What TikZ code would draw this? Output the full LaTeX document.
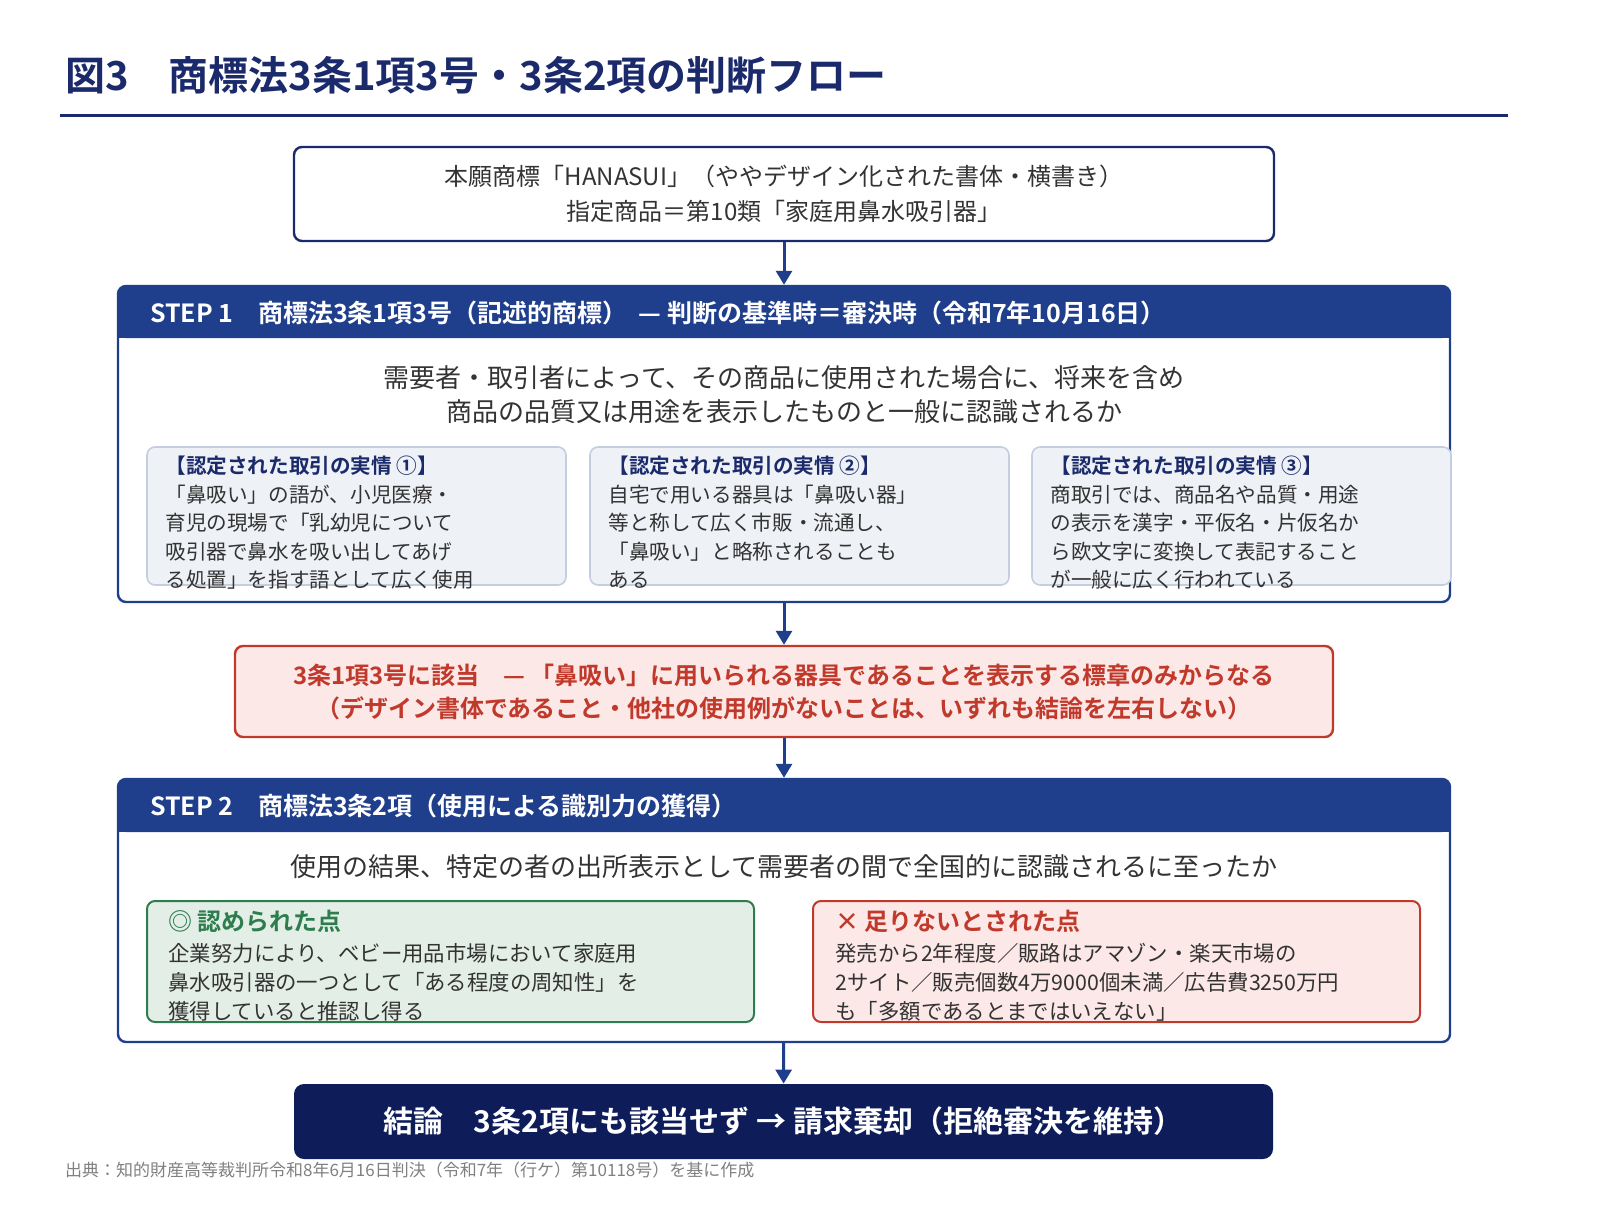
\documentclass[tikz,border=0pt]{standalone}
\usepackage{fontspec}
\setmainfont{Noto Sans CJK JP}[BoldFont={Noto Sans CJK JP Bold}]
\usetikzlibrary{arrows.meta}
\definecolor{navy}{HTML}{1B2A6B}
\definecolor{stepblue}{HTML}{1F3F8C}
\definecolor{deepnavy}{HTML}{0E1D5A}
\definecolor{factfill}{HTML}{EEF1F6}
\definecolor{factline}{HTML}{C5CEE0}
\definecolor{hitred}{HTML}{C0392B}
\definecolor{hitfill}{HTML}{FCE8E6}
\definecolor{okgreen}{HTML}{2E7D4F}
\definecolor{okfill}{HTML}{E3EFE6}
\definecolor{bodytext}{HTML}{333333}

\begin{document}
\begin{tikzpicture}[x=0.5pt,y=-0.5pt, >={Triangle[length=7pt,width=8pt]},
    box/.style={draw, rounded corners=4pt, line width=1.2pt},
    fact/.style={draw=factline, fill=factfill, rounded corners=4pt, line width=0.8pt},
    flow/.style={->, draw=stepblue, fill=stepblue, line width=1.5pt},
    head/.style={anchor=west, text=white, font=\bfseries\fontsize{12.5}{14}\selectfont},
    small/.style={anchor=north west, align=left, inner sep=0pt, text=bodytext,
      font=\fontsize{10.3}{14.25}\selectfont},
    ask/.style={align=center, text=bodytext, font=\fontsize{13}{17}\selectfont}]
  % title
  \node[anchor=west, text=navy, font=\bfseries\fontsize{20}{24}\selectfont] (title) at (58,75)
    {図3\quad 商標法3条1項3号・3条2項の判断フロー};
  \draw[navy, line width=1.5pt] (60,116) -- (1508,116);
  % mark
  \node[box, draw=navy, minimum width=490pt, minimum height=47pt] (mark) at (784,194) {};
  \node[ask, font=\fontsize{12}{17.5}\selectfont] at (mark) {本願商標「HANASUI」（ややデザイン化された書体・横書き）\\指定商品＝第10類「家庭用鼻水吸引器」};
  % step 1
  \node[box, draw=stepblue, minimum width=666pt, minimum height=158pt] (s1) at (784,444) {};
  \fill[stepblue, rounded corners=4pt] (118,286) rectangle (1450,338);
  \fill[stepblue] (118,320) rectangle (1450,338);
  \node[head] (s1head) at (143,313) {STEP 1\quad 商標法3条1項3号（記述的商標）\ \ — 判断の基準時＝審決時（令和7年10月16日）};
  \node[ask] (s1ask) at (784,395) {需要者・取引者によって、その商品に使用された場合に、将来を含め\\商品の品質又は用途を表示したものと一般に認識されるか};
  \node[fact, minimum width=209.5pt, minimum height=69pt] (f1) at (356.5,516) {};
  \node[fact, minimum width=209.5pt, minimum height=69pt] (f2) at (799.5,516) {};
  \node[fact, minimum width=209.5pt, minimum height=69pt] (f3) at (1241.5,516) {};
  \node[small] at (165,456) {\textcolor{navy}{\bfseries【認定された取引の実情 ①】}\\「鼻吸い」の語が、小児医療・\\育児の現場で「乳幼児について\\吸引器で鼻水を吸い出してあげ\\る処置」を指す語として広く使用};
  \node[small] at (608,456) {\textcolor{navy}{\bfseries【認定された取引の実情 ②】}\\自宅で用いる器具は「鼻吸い器」\\等と称して広く市販・流通し、\\「鼻吸い」と略称されることも\\ある};
  \node[small] at (1050,456) {\textcolor{navy}{\bfseries【認定された取引の実情 ③】}\\商取引では、商品名や品質・用途\\の表示を漢字・平仮名・片仮名か\\ら欧文字に変換して表記すること\\が一般に広く行われている};
  % result of step 1
  \node[box, draw=hitred, fill=hitfill, minimum width=549pt, minimum height=45.5pt] (hit) at (784,691.5) {};
  \node[ask, text=hitred, font=\bfseries\fontsize{12}{16.5}\selectfont] at (hit) {3条1項3号に該当\quad — 「鼻吸い」に用いられる器具であることを表示する標章のみからなる\\（デザイン書体であること・他社の使用例がないことは、いずれも結論を左右しない）};
  % step 2
  \node[box, draw=stepblue, minimum width=666pt, minimum height=131.5pt] (s2) at (784,910.5) {};
  \fill[stepblue, rounded corners=4pt] (118,779) rectangle (1450,832);
  \fill[stepblue] (118,814) rectangle (1450,832);
  \node[head] (s2head) at (143,806) {STEP 2\quad 商標法3条2項（使用による識別力の獲得）};
  \node[ask] (s2ask) at (784,867) {使用の結果、特定の者の出所表示として需要者の間で全国的に認識されるに至ったか};
  \node[box, draw=okgreen, fill=okfill, line width=1pt, minimum width=303.5pt, minimum height=60.5pt] (plus) at (450.5,961.5) {};
  \node[box, draw=hitred, fill=hitfill, line width=1pt, minimum width=303.5pt, minimum height=60.5pt] (minus) at (1116.5,961.5) {};
  \node[small, font=\fontsize{10.7}{14.5}\selectfont] at (168,910) {\textcolor{okgreen}{\bfseries\fontsize{12}{14}\selectfont ◎ 認められた点}\\[1pt]企業努力により、ベビー用品市場において家庭用\\鼻水吸引器の一つとして「ある程度の周知性」を\\獲得していると推認し得る};
  \node[small, font=\fontsize{10.7}{14.5}\selectfont] at (835,910) {\textcolor{hitred}{\bfseries\fontsize{12}{14}\selectfont × 足りないとされた点}\\[1pt]発売から2年程度／販路はアマゾン・楽天市場の\\2サイト／販売個数4万9000個未満／広告費3250万円\\も「多額であるとまではいえない」};
  % conclusion
  \node[fill=deepnavy, rounded corners=5pt, minimum width=489.5pt, minimum height=37.5pt] (end) at (783.5,1121.5) {};
  \node[text=white, font=\bfseries\fontsize{15}{18}\selectfont] at (end) {結論\quad 3条2項にも該当せず → 請求棄却（拒絶審決を維持）};
  \node[anchor=west, text=gray, font=\fontsize{8.5}{10}\selectfont] (src) at (58,1170)
    {出典：知的財産高等裁判所令和8年6月16日判決（令和7年（行ケ）第10118号）を基に作成};
  % arrows
  \draw[flow] (mark) -- (s1);
  \draw[flow] (s1) -- (hit);
  \draw[flow] (hit) -- (s2);
  \draw[flow] (s2) -- (end);
  \pgfresetboundingbox
  \useasboundingbox (0,0) rectangle (1600,1230);
\end{tikzpicture}
\end{document}
